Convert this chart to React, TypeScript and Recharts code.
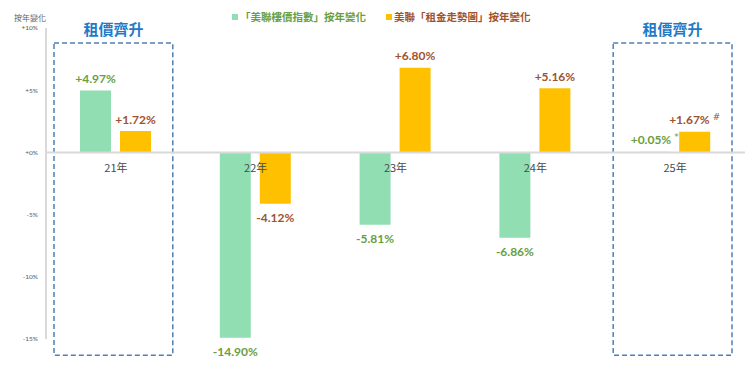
import React from 'react';
import {
  ComposedChart,
  Bar,
  Line,
  XAxis,
  YAxis,
  ReferenceLine,
  ReferenceArea,
  LabelList,
} from 'recharts';

const categories = ['21年', '22年', '23年', '24年', '25年'];
const priceIndexChange = [4.97, -14.9, -5.81, -6.86, 0.05];
const rentIndexChange = [1.72, -4.12, 6.8, 5.16, 1.67];
const priceNotes = ['', '', '', '', '*'];
const rentNotes = ['', '', '', '', '#'];
const yTicks = [10, 5, 0, -5, -10, -15];
const highlightedYears = ['21年', '25年'];
const highlightTitle = '租價齊升';
const seriesNames = ['「美聯樓價指數」按年變化', '美聯「租金走勢圖」按年變化'];
const axisTitle = '按年變化';

const GREEN_BAR = '#92DEB3';
const ORANGE_BAR = '#FFC000';
const GREEN_TEXT = '#6A9E3F';
const BROWN_TEXT = '#A0522D';
const BOX_COLOR = '#4F7FB3';
const TITLE_COLOR = '#1F7BC8';
const CJK = '"Noto Sans CJK TC", "Noto Sans", sans-serif';
const NUM = 'Lato, "Noto Sans", sans-serif';

const data = categories.map((name, i) => ({
  name,
  price: priceIndexChange[i],
  rent: rentIndexChange[i],
}));

const makeValueLabel = (color: string, notes: string[]) => (props: any) => {
  const vb = props.viewBox || {};
  const x = props.x ?? vb.x;
  const y = props.y ?? vb.y;
  const width = props.width ?? vb.width;
  const height = props.height ?? vb.height;
  const value = Number(props.value);
  const index = props.index;
  const top = Math.min(y, y + height);
  const bottom = Math.max(y, y + height);
  const cx = x + width / 2;
  const positive = value >= 0;
  const ty = positive ? top - 12 : bottom + 14;
  const text = (positive ? '+' : '') + value.toFixed(2) + '%';
  const note = notes[index] || '';
  return (
    <text
      x={cx}
      y={ty}
      textAnchor="middle"
      dominantBaseline="central"
      fill={color}
      fontSize={12}
      fontWeight={700}
      fontFamily={NUM}
    >
      {text}
      {note ? (
        <tspan dx={3} dy={-3} fontSize={9} fontWeight={400} fontFamily='"DejaVu Sans", sans-serif'>
          {note}
        </tspan>
      ) : null}
    </text>
  );
};

const CategoryLabel = (props: any) => {
  const { x, y, value } = props;
  return (
    <text
      x={x}
      y={y + 15}
      textAnchor="middle"
      dominantBaseline="central"
      fill="#4a4a4a"
      fontSize={11}
      fontFamily={CJK}
    >
      {value}
    </text>
  );
};

const HighlightBox = (props: any) => {
  const { x, y, width, height } = props;
  const left = x + 8;
  const right = x + width - 13;
  return (
    <g>
      <rect
        x={left}
        y={y}
        width={right - left}
        height={height}
        fill="none"
        stroke={BOX_COLOR}
        strokeWidth={1.5}
        strokeDasharray="5 3"
      />
      <text
        x={(left + right) / 2}
        y={y - 14}
        textAnchor="middle"
        dominantBaseline="central"
        fill={TITLE_COLOR}
        fontSize={15}
        fontWeight={700}
        fontFamily={CJK}
      >
        {highlightTitle}
      </text>
    </g>
  );
};

const AxisTitle = (props: any) => {
  const vb = props.viewBox || {};
  return (
    <text
      x={(vb.x ?? 0) + (vb.width ?? 46) - 16}
      y={(vb.y ?? 28) - 11}
      textAnchor="middle"
      dominantBaseline="central"
      fill="#666666"
      fontSize={8}
      fontFamily={CJK}
    >
      {axisTitle}
    </text>
  );
};

const legendItems = [
  { name: seriesNames[0], box: GREEN_BAR, text: GREEN_TEXT },
  { name: seriesNames[1], box: ORANGE_BAR, text: BROWN_TEXT },
];

export default function App() {
  return (
    <div style={{ position: 'absolute', left: 0, top: 0, width: 750, height: 366, background: '#fff' }}>
      <ComposedChart
        width={750}
        height={366}
        data={data}
        margin={{ top: 28, right: 5, bottom: 27, left: 0 }}
        barSize={31}
        barGap={9}
      >
        <XAxis dataKey="name" hide />
        <YAxis
          domain={[-15, 10]}
          ticks={yTicks}
          interval={0}
          width={46}
          allowDataOverflow
          tickLine={false}
          axisLine={{ stroke: '#d9d9d9', strokeWidth: 2 }}
          tick={{ fontSize: 6.5, fill: '#595959', fontFamily: NUM }}
          tickFormatter={(v: number) => (v >= 0 ? '+' : '') + v + '%'}
          label={(p: any) => <AxisTitle {...p} />}
        />
        {highlightedYears.map((yr) => (
          <ReferenceArea
            key={yr}
            x1={yr}
            x2={yr}
            y1={-16.3}
            y2={8.8}
            ifOverflow="visible"
            shape={(p: any) => <HighlightBox {...p} />}
          />
        ))}
        <ReferenceLine y={0} stroke="#d9d9d9" strokeWidth={2} />
        <Bar dataKey="price" name={seriesNames[0]} fill={GREEN_BAR} isAnimationActive={false}>
          <LabelList dataKey="price" content={makeValueLabel(GREEN_TEXT, priceNotes)} />
        </Bar>
        <Bar dataKey="rent" name={seriesNames[1]} fill={ORANGE_BAR} isAnimationActive={false}>
          <LabelList dataKey="rent" content={makeValueLabel(BROWN_TEXT, rentNotes)} />
        </Bar>
        <Line
          dataKey={() => 0}
          stroke="none"
          dot={false}
          activeDot={false}
          legendType="none"
          isAnimationActive={false}
        >
          <LabelList dataKey="name" content={CategoryLabel} />
        </Line>
      </ComposedChart>
      <div
        style={{
          position: 'absolute',
          left: 232,
          top: 9,
          display: 'flex',
          alignItems: 'center',
          fontFamily: CJK,
          fontSize: 10.5,
          fontWeight: 700,
          lineHeight: '16px',
        }}
      >
        {legendItems.map((it, i) => (
          <div key={i} style={{ display: 'flex', alignItems: 'center', marginRight: i === 0 ? 20 : 0 }}>
            <span style={{ display: 'inline-block', width: 6, height: 6, background: it.box, marginRight: 2 }} />
            <span style={{ color: it.text }}>{it.name}</span>
          </div>
        ))}
      </div>
    </div>
  );
}
